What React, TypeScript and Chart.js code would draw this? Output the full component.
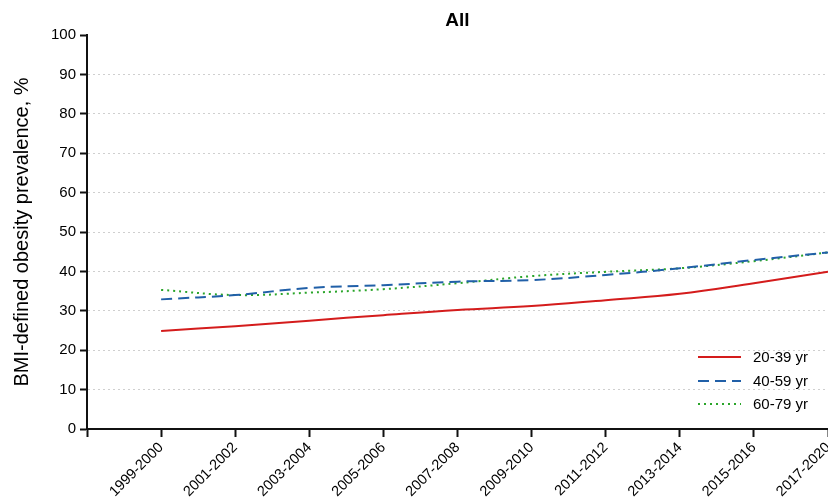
import React, { useEffect, useRef } from "react";
import { Chart, registerables } from "chart.js";

Chart.register(...registerables);

const periods = [
  "1999-2000",
  "2001-2002",
  "2003-2004",
  "2005-2006",
  "2007-2008",
  "2009-2010",
  "2011-2012",
  "2013-2014",
  "2015-2016",
  "2017-2020",
];

const age20to39 = [24.9, 26.1, 27.5, 28.9, 30.2, 31.2, 32.7, 34.3, 37.0, 39.9];
const age40to59 = [32.9, 34.0, 35.8, 36.5, 37.4, 37.8, 39.1, 40.8, 42.9, 44.8];
const age60to79 = [35.3, 34.0, 34.6, 35.5, 37.0, 38.8, 39.9, 40.8, 42.6, 44.8];

const seriesLabels = ["20-39 yr", "40-59 yr", "60-79 yr"];
const yTicks = [0, 10, 20, 30, 40, 50, 60, 70, 80, 90, 100];

const FONT = "'Liberation Sans', Arial, Helvetica, sans-serif";

const toPoints = (vals: number[]) => vals.map((y, i) => ({ x: i, y }));

// Title and in-plot legend drawn on top of the chart
const overlayPlugin = {
  id: "overlay",
  afterDraw(chart: any) {
    const { ctx, chartArea } = chart;
    ctx.save();
    ctx.fillStyle = "#000";
    ctx.font = `bold 19px ${FONT}`;
    ctx.textAlign = "center";
    ctx.textBaseline = "middle";
    ctx.fillText("All", (chartArea.left + chartArea.right) / 2, 21);

    const x0 = chartArea.right - 130;
    const x1 = chartArea.right - 87;
    const tx = chartArea.right - 75;
    const rows = [chartArea.bottom - 72, chartArea.bottom - 48, chartArea.bottom - 25];
    chart.data.datasets.forEach((ds: any, i: number) => {
      const y = rows[i];
      ctx.beginPath();
      ctx.strokeStyle = ds.borderColor;
      ctx.lineWidth = ds.borderWidth;
      ctx.setLineDash(ds.borderDash || []);
      ctx.moveTo(x0, y);
      ctx.lineTo(x1, y);
      ctx.stroke();
      ctx.setLineDash([]);
      ctx.fillStyle = "#000";
      ctx.font = `15px ${FONT}`;
      ctx.textAlign = "left";
      ctx.fillText(ds.label, tx, y + 1);
    });
    ctx.restore();
  },
};

export default function App() {
  const canvasRef = useRef<HTMLCanvasElement | null>(null);

  useEffect(() => {
    const canvas = canvasRef.current;
    if (!canvas) return;
    const chart = new Chart(canvas, {
      type: "line",
      data: {
        datasets: [
          {
            label: seriesLabels[0],
            data: toPoints(age20to39),
            borderColor: "#d41c1c",
            borderWidth: 2,
            pointRadius: 0,
            tension: 0.4,
            fill: false,
          },
          {
            label: seriesLabels[1],
            data: toPoints(age40to59),
            borderColor: "#2160a8",
            borderWidth: 2,
            borderDash: [11, 6],
            pointRadius: 0,
            tension: 0.4,
            fill: false,
          },
          {
            label: seriesLabels[2],
            data: toPoints(age60to79),
            borderColor: "#2aa52a",
            borderWidth: 2,
            borderDash: [2, 4],
            pointRadius: 0,
            tension: 0.4,
            fill: false,
          },
        ],
      },
      options: {
        responsive: false,
        animation: false,
        layout: { padding: { top: 35, left: 0, right: 0, bottom: 0 } },
        plugins: {
          legend: { display: false },
          title: { display: false },
          tooltip: { enabled: false },
        },
        scales: {
          x: {
            type: "linear",
            min: -1,
            max: 9,
            afterBuildTicks(scale: any) {
              scale.ticks = [-1, 0, 1, 2, 3, 4, 5, 6, 7, 8, 9].map((v) => ({ value: v }));
            },
            afterFit(scale: any) {
              scale.height = 69;
              scale.paddingLeft = 0;
              scale.paddingRight = 0;
            },
            ticks: {
              autoSkip: false,
              minRotation: 45,
              maxRotation: 45,
              padding: 2,
              color: "#000",
              font: { family: FONT, size: 14.5 },
              callback: (v: any) => periods[v] ?? "",
            },
            grid: {
              display: true,
              drawOnChartArea: false,
              drawTicks: true,
              tickLength: 8,
              tickColor: "#111",
              tickWidth: 2,
            },
            border: { display: true, color: "#111", width: 2 },
          },
          y: {
            min: 0,
            max: 100,
            afterBuildTicks(scale: any) {
              scale.ticks = yTicks.map((v) => ({ value: v }));
            },
            afterFit(scale: any) {
              scale.width = 87;
              scale.paddingTop = 0;
              scale.paddingBottom = 0;
            },
            ticks: {
              padding: 4,
              color: "#000",
              font: { family: FONT, size: 15 },
            },
            grid: {
              display: true,
              drawOnChartArea: true,
              drawTicks: true,
              tickLength: 7,
              lineWidth: 1,
              color: (ctx: any) =>
                ctx.tick && (ctx.tick.value === 0 || ctx.tick.value === 100)
                  ? "rgba(0,0,0,0)"
                  : "#cfcfcf",
              tickColor: "#111",
              tickWidth: 2,
            },
            border: { display: true, color: "#111", width: 2, dash: [2, 3] },
            title: {
              display: true,
              text: "BMI-defined obesity prevalence, %",
              color: "#000",
              font: { family: FONT, size: 20 },
              padding: { top: 10, bottom: 0 },
            },
          },
        },
      },
      plugins: [overlayPlugin],
    });
    return () => chart.destroy();
  }, []);

  return (
    <div style={{ position: "fixed", left: 0, top: 0, width: 828, height: 498, background: "#fff" }}>
      <canvas ref={canvasRef} width={828} height={498} />
    </div>
  );
}
